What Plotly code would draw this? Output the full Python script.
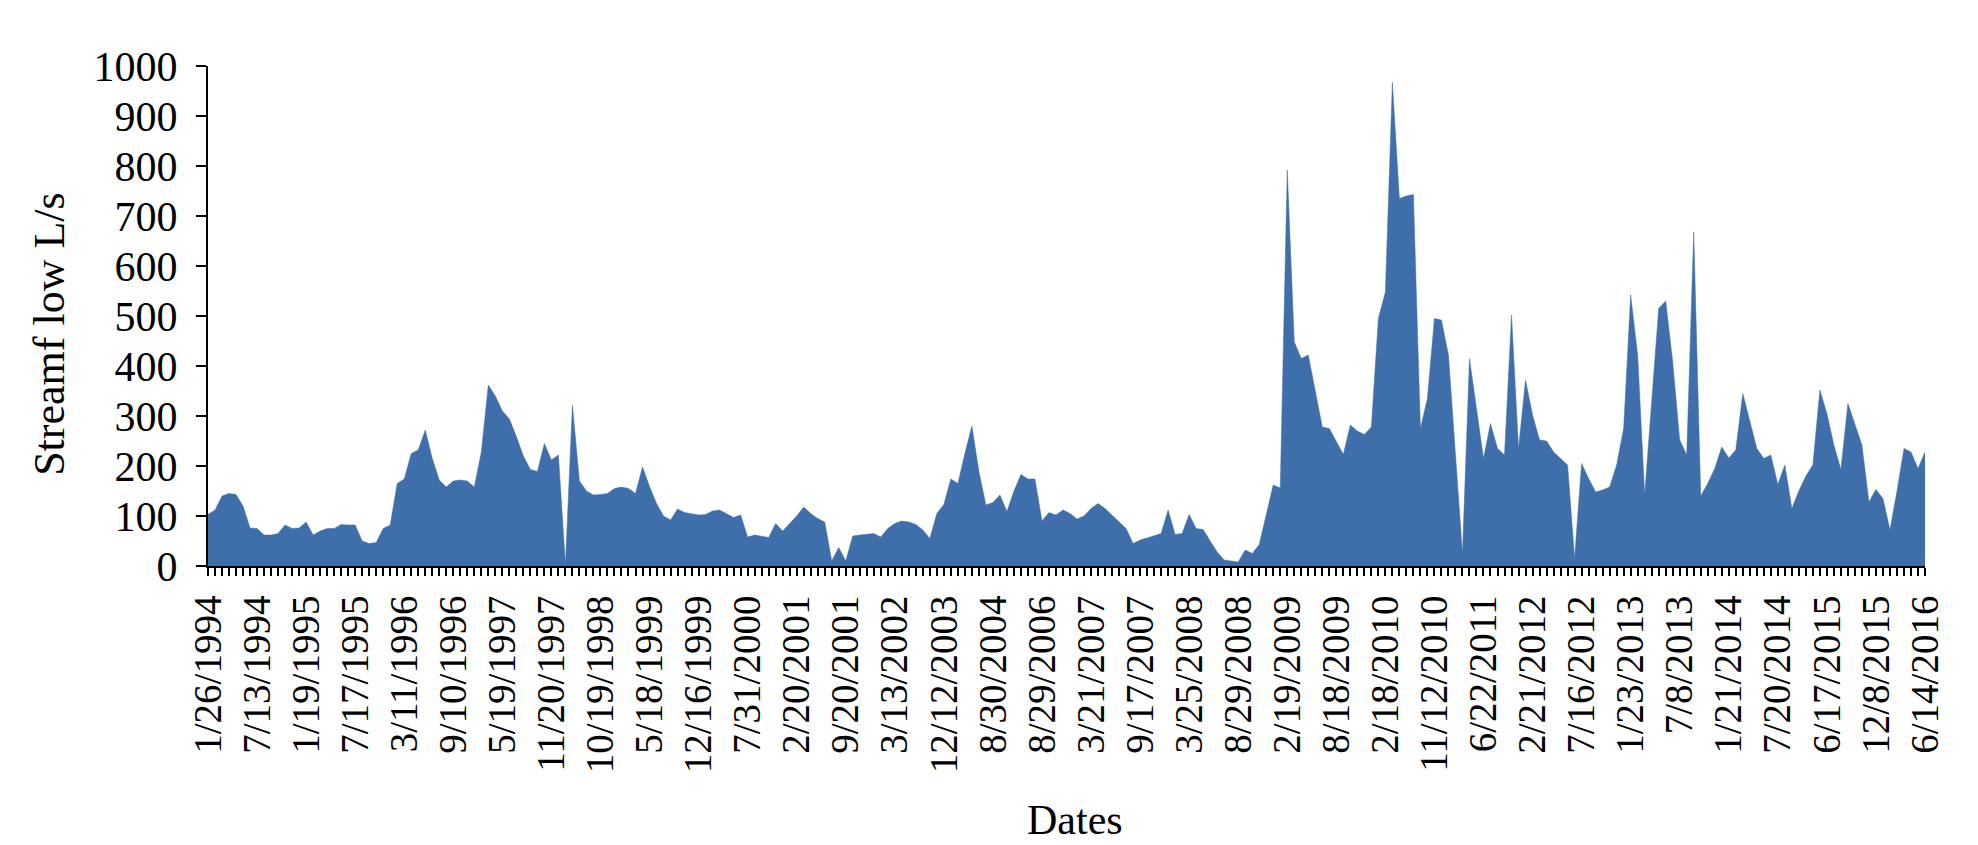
import plotly.graph_objects as go

# tick labels shown on the category axis (every 7th sample)
date_labels = [
    "1/26/1994", "7/13/1994", "1/19/1995", "7/17/1995", "3/11/1996",
    "9/10/1996", "5/19/1997", "11/20/1997", "10/19/1998", "5/18/1999",
    "12/16/1999", "7/31/2000", "2/20/2001", "9/20/2001", "3/13/2002",
    "12/12/2003", "8/30/2004", "8/29/2006", "3/21/2007", "9/17/2007",
    "3/25/2008", "8/29/2008", "2/19/2009", "8/18/2009", "2/18/2010",
    "11/12/2010", "6/22/2011", "2/21/2012", "7/16/2012", "1/23/2013",
    "7/8/2013", "1/21/2014", "7/20/2014", "6/17/2015", "12/8/2015",
    "6/14/2016",
]
label_step = 7

# streamflow samples, L/s
streamflow = [
    103, 112, 140, 145, 143, 120, 76, 75, 62, 62,
    65, 82, 75, 76, 88, 62, 70, 75, 75, 83,
    82, 82, 50, 45, 47, 75, 82, 165, 174, 225,
    232, 272, 215, 172, 158, 170, 172, 170, 158, 228,
    362, 340, 310, 294, 259, 220, 193, 189, 245, 212,
    222, 3, 322, 170, 150, 142, 143, 145, 155, 158,
    155, 145, 198, 159, 125, 100, 92, 114, 107, 105,
    102, 103, 110, 112, 105, 97, 102, 58, 62, 60,
    57, 85, 70, 85, 100, 118, 105, 95, 88, 10,
    37, 10, 60, 62, 64, 65, 58, 75, 85, 90,
    88, 83, 72, 55, 105, 123, 174, 165, 225, 280,
    189, 122, 127, 142, 109, 150, 183, 174, 174, 90,
    107, 102, 112, 105, 94, 100, 115, 125, 115, 102,
    90, 75, 45, 52, 56, 60, 65, 112, 63, 65,
    103, 75, 73, 50, 28, 12, 10, 8, 32, 25,
    43, 100, 162, 156, 792, 448, 415, 422, 350, 278,
    275, 250, 223, 282, 270, 263, 278, 495, 548, 967,
    735, 740, 743, 275, 335, 495, 492, 422, 220, 25,
    415, 310, 215, 285, 235, 222, 502, 235, 372, 302,
    252, 250, 228, 215, 202, 15, 205, 175, 148, 152,
    158, 202, 275, 542, 422, 142, 330, 515, 530, 408,
    252, 222, 668, 140, 165, 195, 238, 216, 232, 345,
    290, 235, 215, 222, 163, 202, 115, 150, 180, 202,
    352, 305, 242, 193, 325, 285, 242, 128, 153, 135,
    72, 150, 235, 228, 195, 228,
]

n = len(streamflow)
idx = list(range(n))
ticktext = [date_labels[i // label_step] if i % label_step == 0 else "" for i in idx]

FONT = "Liberation Serif, Times New Roman, serif"
BLUE = "#3E6FAA"

fig = go.Figure()
fig.add_trace(go.Scatter(
    x=idx,
    y=streamflow,
    mode="lines",
    fill="tozeroy",
    fillcolor=BLUE,
    line=dict(color=BLUE, width=0.5),
    hoverinfo="y",
))

fig.update_layout(
    width=1978,
    height=845,
    margin=dict(l=200, r=61, t=58, b=287),
    plot_bgcolor="white",
    paper_bgcolor="white",
    showlegend=False,
    font=dict(family=FONT, color="black", size=40),
)

fig.update_xaxes(
    range=[0, n - 1],
    tickmode="array",
    tickvals=idx,
    ticktext=ticktext,
    tickangle=-90,
    tickfont=dict(size=39),
    ticks="outside",
    ticklen=8,
    tickwidth=2,
    tickcolor="black",
    ticklabelstandoff=4,
    showline=True,
    linecolor="black",
    linewidth=2,
    showgrid=False,
    zeroline=False,
)

fig.update_yaxes(
    range=[0, 1000],
    dtick=100,
    tickfont=dict(size=42),
    ticks="outside",
    ticklen=10,
    tickwidth=2,
    tickcolor="black",
    ticklabelstandoff=10,
    showline=True,
    linecolor="black",
    linewidth=2,
    showgrid=False,
    zeroline=False,
)

fig.add_annotation(
    text="Streamf low L/s", textangle=-90,
    xref="paper", yref="paper", x=-0.0924, y=0.465,
    xanchor="center", yanchor="middle", showarrow=False,
    font=dict(size=44),
)
fig.add_annotation(
    text="Dates",
    xref="paper", yref="paper", x=0.505, y=-0.507,
    xanchor="center", yanchor="middle", showarrow=False,
    font=dict(size=42),
)

fig.write_html("out.html")
